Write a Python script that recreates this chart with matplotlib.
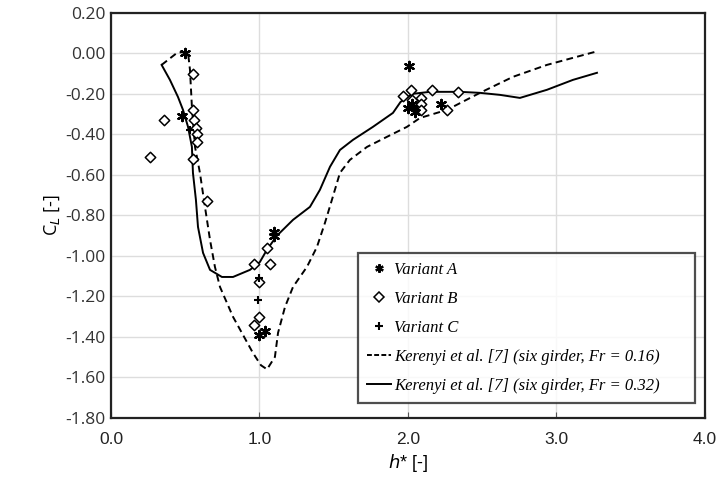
import matplotlib
matplotlib.use("Agg")
import matplotlib.pyplot as plt
from matplotlib.lines import Line2D

# Kerenyi et al. curves
fr016_x = [0.341, 0.444, 0.485, 0.519, 0.532, 0.545, 0.566, 0.599, 0.633, 0.667, 0.700, 0.734, 0.822,
           0.956, 1.010, 1.051, 1.104, 1.125, 1.172, 1.226, 1.320, 1.387, 1.441, 1.488, 1.542, 1.609,
           1.724, 1.859, 1.993, 2.081, 2.263, 2.485, 2.707, 2.936, 3.273]
fr016_y = [-0.057, 0.002, 0.007, 0.002, -0.081, -0.264, -0.462, -0.590, -0.758, -0.921, -1.054, -1.153, -1.301,
           -1.479, -1.540, -1.560, -1.499, -1.380, -1.252, -1.153, -1.054, -0.956, -0.837, -0.723, -0.590, -0.526,
           -0.462, -0.412, -0.363, -0.319, -0.279, -0.195, -0.116, -0.057, 0.010]

fr032_x = [0.341, 0.397, 0.451, 0.485, 0.519, 0.545, 0.552, 0.572, 0.586, 0.620, 0.667, 0.747, 0.822,
           0.936, 1.003, 1.050, 1.118, 1.226, 1.340, 1.407, 1.475, 1.542, 1.630, 1.764, 1.899, 1.950,
           2.030, 2.148, 2.350, 2.485, 2.620, 2.754, 2.936, 3.111, 3.273]
fr032_y = [-0.057, -0.131, -0.215, -0.279, -0.363, -0.462, -0.590, -0.723, -0.857, -0.985, -1.069, -1.104, -1.104,
           -1.069, -1.030, -0.970, -0.900, -0.822, -0.758, -0.674, -0.560, -0.477, -0.427, -0.363, -0.294, -0.240,
           -0.200, -0.190, -0.190, -0.195, -0.205, -0.220, -0.180, -0.131, -0.096]

# Experimental variants
varA_x = [0.50, 0.48, 1.00, 1.04, 1.10, 1.10, 2.01, 2.00, 2.03, 2.05, 2.22]
varA_y = [0.00, -0.31, -1.39, -1.37, -0.88, -0.90, -0.06, -0.27, -0.25, -0.29, -0.25]

varB_x = [0.26, 0.36, 0.55, 0.55, 0.56, 0.57, 0.58, 0.58, 0.55, 0.65, 0.96, 1.00, 1.05, 1.07,
          1.00, 0.96, 1.97, 2.02, 2.03, 2.09, 2.09, 2.09, 2.16, 2.26, 2.34]
varB_y = [-0.51, -0.33, -0.10, -0.28, -0.33, -0.37, -0.40, -0.44, -0.52, -0.73, -1.04, -1.13, -0.96, -1.04,
          -1.30, -1.34, -0.21, -0.18, -0.23, -0.22, -0.25, -0.28, -0.18, -0.28, -0.19]

varC_x = [0.53, 1.00, 0.99, 1.10, 2.04]
varC_y = [-0.38, -1.11, -1.22, -0.89, -0.27]

xticks = [0.0, 1.0, 2.0, 3.0, 4.0]
yticks = [0.20, 0.00, -0.20, -0.40, -0.60, -0.80, -1.00, -1.20, -1.40, -1.60, -1.80]

fig = plt.figure(figsize=(7.23, 4.94), dpi=100)
ax = fig.add_axes([0.1535, 0.154, 0.8215, 0.820])

ax.plot(fr016_x, fr016_y, color="black", lw=1.4, ls=(0, (3.5, 2.2)), zorder=3)
ax.plot(fr032_x, fr032_y, color="black", lw=1.4, ls="-", zorder=3)

ax.scatter(varB_x, varB_y, marker="D", s=28, facecolors="white", edgecolors="black", linewidths=1.1, zorder=4)
ax.scatter(varA_x, varA_y, marker=(6, 2, 0), s=45, color="black", linewidths=1.6, zorder=5)
ax.scatter(varC_x, varC_y, marker="+", s=30, color="black", linewidths=1.5, zorder=5)

ax.set_xlim(0, 4)
ax.set_ylim(-1.8, 0.2)
ax.set_xticks(xticks)
ax.set_yticks(yticks)
ax.set_xticklabels([f"{v:.1f}" for v in xticks], fontsize=12.5, family="Liberation Sans", color="#222222")
ax.set_yticklabels([f"{v:.2f}" for v in yticks], fontsize=12.5, family="Open Sans", color="#333333")
ax.tick_params(axis="x", direction="in", length=4, width=0.8, pad=10, color="#555555")
ax.tick_params(axis="y", length=0, pad=4)
ax.grid(True, color="#dddddd", lw=1.0)
ax.set_axisbelow(True)
for s in ax.spines.values():
    s.set_color("#222222")
    s.set_linewidth(1.6)

ax.set_xlabel(r"$h$* [-]", fontsize=13, family="Liberation Sans", labelpad=4)
ax.set_ylabel(r"C$_{\mathit{L}}$ [-]", fontsize=13, family="Open Sans", labelpad=2)

handles = [
    Line2D([], [], marker=(6, 2, 0), color="black", ls="none", markersize=6, markeredgewidth=1.6),
    Line2D([], [], marker="D", markerfacecolor="white", markeredgecolor="black", ls="none", markersize=5, markeredgewidth=1.1),
    Line2D([], [], marker="+", color="black", ls="none", markersize=6, markeredgewidth=1.5),
    Line2D([], [], color="black", lw=1.4, ls=(0, (2.5, 1.2))),
    Line2D([], [], color="black", lw=1.4, ls="-"),
]
labels = ["Variant A", "Variant B", "Variant C",
          "Kerenyi et al. [7] (six girder, Fr = 0.16)",
          "Kerenyi et al. [7] (six girder, Fr = 0.32)"]
leg = ax.legend(handles, labels, loc="lower left", bbox_to_anchor=(0.416, 0.037, 0.567, 0.361),
                mode="expand", prop={"family": "Liberation Serif", "style": "italic", "size": 12},
                frameon=True, fancybox=False, edgecolor="#222222", handlelength=1.4, handletextpad=0.2,
                borderpad=0.55, labelspacing=0.78, borderaxespad=0)
leg.get_frame().set_linewidth(1.6)

fig.savefig("out.png", dpi=100)
